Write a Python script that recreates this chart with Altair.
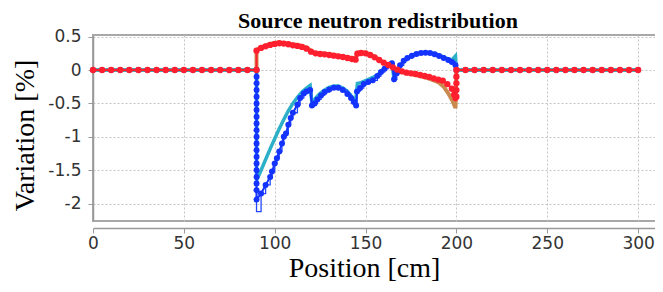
import altair as alt
import pandas as pd

# ---- data ----
flat_left_x = [0, 5, 10, 15, 20, 25, 30, 35, 40, 45, 50, 55, 60, 65, 70, 75, 80, 85, 90]
flat_right_x = [205, 210, 215, 220, 225, 230, 235, 240, 245, 250, 255, 260, 265, 270,
                275, 280, 285, 290, 295, 300]

red_x = (flat_left_x + [90, 92.5, 95, 97.5, 100, 102.5, 105, 107.5, 110, 112.5, 115, 117.5,
         120, 122.5, 125, 127.5, 130, 132.5, 135, 137.5, 140, 142.5, 144.5, 145.5, 147.5,
         150, 152.5, 155, 157.5, 160, 162.5, 165, 167.5, 170, 172.5, 175, 177.5, 180,
         182.5, 185, 187.5, 190, 192.5, 195, 197.5, 198.75, 199.5, 200, 200, 200, 200, 200]
         + flat_right_x)
red_y = ([0] * 19 + [0.29, 0.33, 0.355, 0.375, 0.39, 0.40, 0.395, 0.385, 0.37, 0.36, 0.345,
         0.32, 0.275, 0.25, 0.24, 0.235, 0.225, 0.215, 0.205, 0.195, 0.18, 0.165, 0.155,
         0.245, 0.255, 0.25, 0.225, 0.19, 0.15, 0.11, 0.075, 0.04, 0.005, -0.02, -0.04,
         -0.05, -0.06, -0.075, -0.09, -0.105, -0.125, -0.145, -0.16, -0.21, -0.28, -0.37,
         -0.42, -0.4, -0.3, -0.2, -0.1, 0] + [0] * 20)

brown_x = [0, 90, 90, 92.5, 95, 97.5, 100, 102.5, 105, 107.5, 110, 112.5, 115, 117.5, 119.5,
           120.5, 122.5, 125, 130, 135, 140, 144.5, 145.5, 148, 150, 152.5, 155, 160, 165,
           170, 175, 180, 185, 190, 193, 196, 198, 199.5, 200, 300]
brown_y = [0, 0, 0.30, 0.34, 0.37, 0.39, 0.405, 0.41, 0.405, 0.395, 0.385, 0.375, 0.36,
           0.335, 0.30, 0.27, 0.255, 0.25, 0.235, 0.215, 0.19, 0.17, 0.26, 0.265, 0.26,
           0.235, 0.20, 0.11, 0.035, -0.03, -0.06, -0.09, -0.13, -0.18, -0.25, -0.37,
           -0.47, -0.57, 0, 0]

cyan_x = [0, 90, 90, 92.5, 95, 97.5, 100, 102.5, 105, 107.5, 110, 112.5, 115, 117.5, 119.5,
          120.5, 122.5, 125, 127.5, 130, 132.5, 135, 137.5, 140, 142.5, 144.5, 145.5, 147.5,
          150, 152.5, 155, 157.5, 160, 162.5, 164.5, 165.5, 167.5, 170, 172.5, 175, 177.5,
          180, 182.5, 185, 187.5, 190, 192.5, 195, 197.5, 199.5, 200, 300]
cyan_y = [0, 0, -1.65, -1.50, -1.34, -1.18, -1.03, -0.88, -0.74, -0.61, -0.50, -0.41, -0.33,
          -0.27, -0.23, -0.50, -0.42, -0.35, -0.30, -0.26, -0.24, -0.24, -0.27, -0.32, -0.40,
          -0.48, -0.20, -0.19, -0.16, -0.13, -0.10, -0.05, 0.02, 0.07, 0.10, -0.10, -0.02,
          0.10, 0.17, 0.21, 0.24, 0.255, 0.265, 0.26, 0.25, 0.23, 0.20, 0.17, 0.15, 0.21,
          0, 0]

blue_active_x = [90, 90, 90, 90, 90, 90, 90, 90, 90, 90, 90, 90, 90, 90, 90, 90, 90, 90, 90,
                 90, 92.5, 95, 97.5, 98.5, 100, 101.2, 102.5, 104, 105, 106.2, 107.5, 108.8,
                 110, 112.5, 114, 116, 117.5, 119.5, 120.5, 122, 123.5, 125.5, 127.5, 130,
                 132.5, 135, 137.5, 140, 142, 143.5, 144.8, 145.3, 147, 149, 151.5, 154,
                 156.5, 158.5, 160.5, 162.5, 164.5, 165.7, 167.2, 169, 171, 173, 175.5, 178,
                 180.5, 183, 185.5, 188, 190.5, 193, 195.5, 197.5, 199.5, 200]
blue_active_y = [0, -0.1, -0.2, -0.3, -0.4, -0.5, -0.6, -0.7, -0.8, -0.9, -1.0, -1.1, -1.2,
                 -1.3, -1.4, -1.5, -1.6, -1.7, -1.8, -1.94, -1.85, -1.72, -1.60, -1.52, -1.40,
                 -1.32, -1.22, -1.10, -1.00, -0.95, -0.82, -0.72, -0.64, -0.52, -0.42, -0.35,
                 -0.32, -0.30, -0.53, -0.50, -0.44, -0.38, -0.33, -0.29, -0.265, -0.265,
                 -0.30, -0.36, -0.42, -0.48, -0.53, -0.32, -0.27, -0.21, -0.18, -0.155, -0.09,
                 -0.03, 0.02, 0.07, 0.10, -0.14, -0.05, 0.07, 0.14, 0.18, 0.215, 0.24, 0.255,
                 0.26, 0.255, 0.235, 0.21, 0.18, 0.15, 0.12, 0.07, 0]
blue_x = flat_left_x[:-1] + blue_active_x + flat_right_x
blue_y = [0] * 18 + blue_active_y + [0] * 20

step_x = [90, 90] + blue_active_x[20:]
step_y = [0, -2.12] + blue_active_y[20:]

x_ticks = [0, 50, 100, 150, 200, 250, 300]
y_ticks = [-2, -1.5, -1, -0.5, 0, 0.5]


def frame(xs, ys):
    return pd.DataFrame({"x": xs, "y": ys, "i": list(range(len(xs)))})


X = alt.X("x:Q",
          scale=alt.Scale(domain=[0, 313.7], nice=False, zero=False),
          axis=alt.Axis(values=x_ticks, title="Position [cm]", grid=True, offset=7,
                        labelFlush=False,
                        labelFont="DejaVu Sans", labelFontSize=17, labelColor="#333333",
                        labelPadding=2, tickColor="#999999", tickSize=5,
                        domainColor="#999999", domainWidth=1.5,
                        titleFont="Liberation Serif", titleFontSize=28,
                        titleFontWeight="normal", titleColor="black", titlePadding=3,
                        titleX=271))
Y = alt.Y("y:Q",
          scale=alt.Scale(domain=[-2.26, 0.524], nice=False, zero=False),
          axis=alt.Axis(values=y_ticks, title="Variation [%]", grid=True,
                        labelExpr="datum.value + ''",
                        labelFont="DejaVu Sans", labelFontSize=17, labelColor="#333333",
                        labelPadding=7, tickColor="#999999", tickSize=5,
                        domainColor="#999999", domainWidth=1.5,
                        titleFont="Liberation Serif", titleFontSize=28,
                        titleFontWeight="normal", titleColor="black", titlePadding=8,
                        titleY=100))
O = alt.Order("i:Q")

brown = alt.Chart(frame(brown_x, brown_y)).mark_line(
    color="#c98a4e", strokeWidth=4).encode(x=X, y=Y, order=O)
cyan = alt.Chart(frame(cyan_x, cyan_y)).mark_line(
    color="#2bb0c8", strokeWidth=3.5).encode(x=X, y=Y, order=O)
step = alt.Chart(frame(step_x, step_y)).mark_line(
    color="#2347ff", strokeWidth=1.3, interpolate="step-after").encode(x=X, y=Y, order=O)
blue = alt.Chart(frame(blue_x, blue_y)).mark_line(
    color="#1433ff", strokeWidth=2,
    point=alt.OverlayMarkDef(filled=True, color="#1433ff", size=36, opacity=1)
).encode(x=X, y=Y, order=O)
red = alt.Chart(frame(red_x, red_y)).mark_line(
    color="#ff1f2e", strokeWidth=2,
    point=alt.OverlayMarkDef(filled=True, color="#ff1f2e", size=40, opacity=1)
).encode(x=X, y=Y, order=O)

chart = alt.layer(brown, cyan, step, blue, red).properties(
    width=570, height=186,
    autosize=alt.AutoSizeParams(type="none"),
    padding={"left": 85, "top": 27, "right": -8, "bottom": 63},
    title=alt.TitleParams("Source neutron redistribution", font="Liberation Serif",
                          fontSize=22, fontWeight="bold", color="black",
                          anchor="middle", offset=-5),
    background="white",
).configure_view(stroke="#a8a8a8", strokeWidth=2).configure_axis(
    gridColor="#c4c4c4", gridDash=[2, 2], gridWidth=1)

chart.save("out.html", embed_options={"renderer": "svg", "actions": False})
